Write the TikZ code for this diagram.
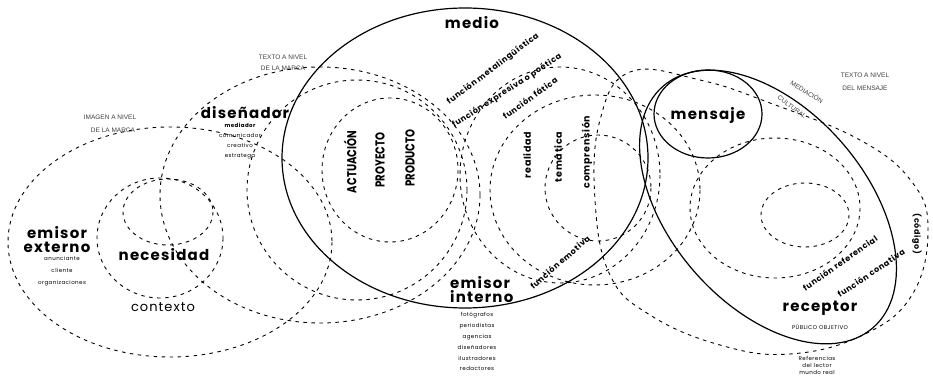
\documentclass[tikz,border=0pt]{standalone}
\usepackage{fontspec}
\setmainfont{Poppins}
\newfontfamily\labf{Poppins}[LetterSpace=8]
\newfontfamily\condf{Poppins}[FakeStretch=0.78]
\newfontfamily\tinyf{Liberation Sans}
\begin{document}
\begin{tikzpicture}[x=1pt,y=-1pt,
  dsh/.style={line width=0.9pt, dash pattern=on 3.5pt off 4.5pt},
  sol/.style={line width=1.2pt},
  lab/.style={font=\labf\bfseries\fontsize{15}{15}\selectfont, inner sep=0pt},
  fn/.style={font=\labf\bfseries\fontsize{8}{9}\selectfont, inner sep=0pt},
  vcap/.style={font=\condf\bfseries\fontsize{13}{13}\selectfont, inner sep=0pt, rotate=90},
  vsm/.style={font=\labf\bfseries\fontsize{9.5}{10}\selectfont, inner sep=0pt, rotate=90},
  tiny/.style={font=\labf\fontsize{5.5}{6}\selectfont, inner sep=0pt},
  caps/.style={font=\tinyf\fontsize{6.5}{7}\selectfont, inner sep=0pt, text=black!75},
]
\useasboundingbox (0,0) rectangle (933,379);
% left group
\draw[dsh] (170,242) ellipse [x radius=162, y radius=115];
\draw[dsh] (160,238) ellipse [x radius=63, y radius=60];
\draw[dsh] (168,212) ellipse [x radius=45, y radius=33];
% disenador
\draw[dsh] (320,195) ellipse [x radius=160, y radius=128];
% medio internals
\draw[dsh] (357,190) circle [radius=110];
\draw[dsh] (390,170) ellipse [x radius=68, y radius=72];
\draw[dsh] (560,175) ellipse [x radius=100, y radius=108];
\draw[dsh] (598,188) circle [radius=53];
\draw[dsh] (595,190) ellipse [x radius=105, y radius=95];
% receptor
\draw[dsh] (805,215) ellipse [x radius=44, y radius=32];
\draw[dsh] (775,208) ellipse [x radius=85, y radius=70];
\draw[dsh] plot[smooth cycle, tension=0.7] coordinates {(630,72) (700,80) (770,103) (860,140) (912,182) (928,230) (912,295) (863,335) (790,354) (720,345) (650,315) (610,275) (595,200) (600,120)};
% solid
\draw[sol] (465,158) ellipse [x radius=183, y radius=150];
\draw[sol] (708,114) ellipse [x radius=54, y radius=44];
\draw[sol, rotate around={-49:(768,207)}] (768,207) ellipse [x radius=160, y radius=98];
% labels
\node[lab] (medio) at (472,23) {medio};
\node[lab] (mensaje) at (708,115) {mensaje};
\node[lab] (receptor) at (820,308) {receptor};
\node[lab, anchor=west] (emi) at (450,283) {emisor};
\node[lab, anchor=west] (int) at (450,297) {interno};
\node[lab] (eme) at (57,233) {emisor};
\node[lab] (ext) at (57,247) {externo};
\node[lab] (nec) at (164,255) {necesidad};
\node[font=\labf\fontsize{13}{13}\selectfont, inner sep=0pt] (ctx) at (163,307) {contexto};
\node[lab] (dis) at (245,113) {diseñador};
% small texts
\node[tiny, font=\labf\bfseries\fontsize{5.5}{6}\selectfont] (d1) at (240,125) {mediador};
\node[tiny] (d2) at (240,135) {comunicador};
\node[tiny] (d3) at (240,145) {creativo};
\node[tiny] (d4) at (240,156) {estratega};
\node[tiny] (e1) at (62,258) {anunciante};
\node[tiny] (e2) at (62,270) {cliente};
\node[tiny] (e3) at (62,283) {organizaciones};
\node[tiny] (i1) at (477,315) {fotógrafos};
\node[tiny] (i2) at (477,326) {periodistas};
\node[tiny] (i3) at (477,337) {agencias};
\node[tiny] (i4) at (477,347) {diseñadores};
\node[tiny] (i5) at (477,358) {ilustradores};
\node[tiny] (i6) at (477,368) {redactores};
\node[caps] (c1) at (110,117) {IMAGEN A NIVEL};
\node[caps] (c2) at (113,130) {DE LA MARCA};
\node[caps] (c3) at (283,57) {TEXTO A NIVEL};
\node[caps] (c4) at (283,68) {DE LA MARCA};
\node[caps] (c5) at (865,75) {TEXTO A NIVEL};
\node[caps] (c6) at (865,88) {DEL MENSAJE};
\node[caps, rotate=-32] (m1) at (807,92) {MEDIACIÓN};
\node[caps, rotate=-36] (m2) at (792,107) {CULTURAL};
\node[tiny] (r1) at (820,327) {PÚBLICO OBJETIVO};
\node[tiny] (r2) at (817,358) {Referencias};
\node[tiny] (r3) at (817,365) {del lector};
\node[tiny] (r4) at (817,372) {mundo real};
% rotated function labels
\node[fn, rotate=37] (f1) at (493,69) {función metalingüística};
\node[fn, rotate=33] (f2) at (507,91) {función expresiva o poética};
\node[fn, rotate=36] (f3) at (530,98) {función fática};
\node[fn, rotate=41] (f4) at (560,262) {función emotiva};
\node[fn, rotate=35] (f5) at (840,263) {función referencial};
\node[fn, rotate=34] (f6) at (871,273) {función conativa};
\node[fn, rotate=-90] (cod) at (917,234) {(código)};
% vertical words
\node[vcap] (v1) at (350,162) {ACTUACIÓN};
\node[vcap] (v2) at (380,160) {PROYECTO};
\node[vcap] (v3) at (410,158) {PRODUCTO};
\node[vsm] (w1) at (527,155) {realidad};
\node[vsm] (w2) at (558,157) {temática};
\node[vsm] (w3) at (587,152) {comprensión};
\end{tikzpicture}
\end{document}
